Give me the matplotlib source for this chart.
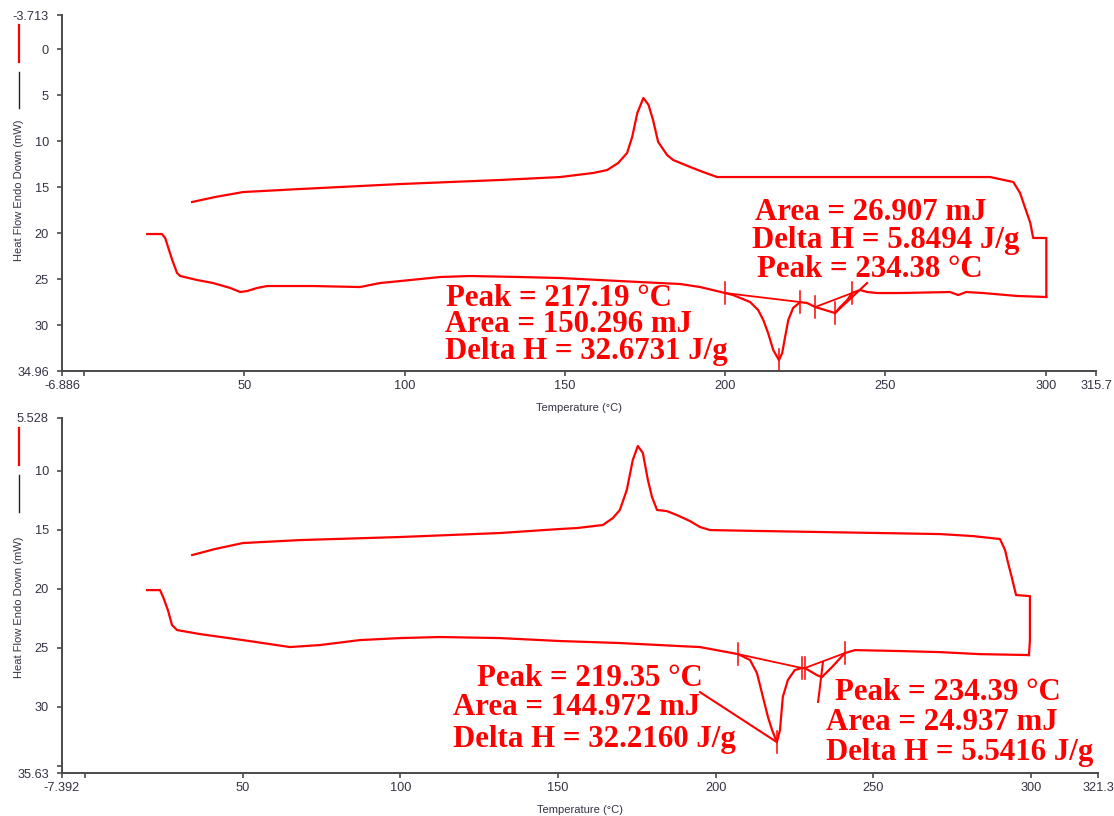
import matplotlib
matplotlib.use("Agg")
import matplotlib.pyplot as plt
from matplotlib.lines import Line2D

# ---------------- data: top run ----------------
top_cool_T = [33.7, 40.9, 49.6, 67.4, 98.6, 129.8, 148.5, 158.8, 163.2, 166.6, 169.4, 171.0,
              172.6, 174.5, 176.1, 177.5, 179.1, 181.9, 183.8, 189.1, 193.1, 197.5, 210.9,
              282.7, 289.9, 292.0, 295.2, 296.1, 300.2, 300.2]
top_cool_HF = [16.6, 16.06, 15.52, 15.19, 14.65, 14.21, 13.89, 13.45, 13.13, 12.37, 11.28, 9.54,
               6.93, 5.30, 6.06, 7.69, 10.08, 11.50, 12.04, 12.80, 13.34, 13.89, 13.89,
               13.89, 14.43, 15.62, 18.88, 20.51, 20.51, 26.92]
top_heat_T = [19.7, 24.3, 25.3, 26.2, 27.5, 29.0, 30.0, 35.3, 40.2, 45.6, 48.7, 50.9, 54.0, 57.1,
              71.5, 86.1, 89.2, 92.4, 98.6, 111.1, 120.4, 136.0, 148.5, 167.2, 186.0, 192.2,
              200.0, 202.5, 207.8, 210.3, 211.9, 213.4, 215.0, 216.8, 217.8, 218.7, 219.7,
              221.2, 223.4, 225.6, 228.1, 231.2, 234.3, 235.9, 238.1, 239.6, 242.1, 244.3,
              247.4, 254.6, 270.2, 272.7, 275.2, 280.5, 291.1, 300.2]
top_heat_HF = [20.08, 20.08, 20.51, 21.49, 22.9, 24.31, 24.64, 25.08, 25.40, 25.94, 26.38, 26.27,
               25.94, 25.73, 25.73, 25.84, 25.62, 25.40, 25.19, 24.75, 24.64, 24.75, 24.86,
               25.19, 25.51, 25.84, 26.49, 26.71, 27.47, 28.34, 29.42, 30.83, 32.68, 33.77,
               33.01, 31.27, 29.42, 28.12, 27.47, 27.58, 28.01, 28.34, 28.66, 28.01, 27.25,
               26.49, 26.16, 26.38, 26.49, 26.49, 26.38, 26.71, 26.38, 26.49, 26.81, 26.92]
# integration limits / markers (T, HF)
top_base1 = [(200.0, 26.49), (223.4, 27.47)]
top_base2 = [(228.1, 28.01), (239.6, 26.49)]
top_marks = [(200.0, 26.49), (223.4, 27.47), (228.1, 28.01), (234.3, 28.66), (239.6, 26.49)]
top_peak_mark = (216.8, 33.77)
top_leader = [(234.3, 28.66), (244.3, 25.4)]
top_labels_1 = ["Peak = 217.19 °C", "Area = 150.296 mJ", "Delta H = 32.6731 J/g"]
top_labels_2 = ["Area = 26.907 mJ", "Delta H = 5.8494 J/g", "Peak = 234.38 °C"]
top_xlim = (-6.886, 315.7)
top_ylim = (-3.713, 34.96)
top_yticks = [-3.713, 0, 5, 10, 15, 20, 25, 30, 34.96]
top_yticklabels = ["-3.713", "0", "5", "10", "15", "20", "25", "30", "34.96"]
top_xticks = [-6.886, 0, 50, 100, 150, 200, 250, 300, 315.7]
top_xticklabels = ["-6.886", "", "50", "100", "150", "200", "250", "300", "315.7"]

# ---------------- data: bottom run ----------------
bot_cool_T = [33.9, 41.1, 50.0, 68.1, 99.8, 131.6, 150.6, 156.0, 164.2, 167.4, 169.6, 171.8,
              173.7, 175.3, 176.9, 178.5, 179.8, 181.4, 184.5, 187.7, 191.8, 195.0, 198.2,
              214.0, 271.2, 281.6, 290.2, 291.8, 292.7, 294.0, 295.3, 299.7, 299.7, 299.4]
bot_cool_HF = [17.15, 16.64, 16.13, 15.88, 15.62, 15.28, 14.94, 14.86, 14.60, 14.01, 13.33, 11.63,
               9.09, 7.90, 8.50, 10.79, 12.23, 13.33, 13.42, 13.76, 14.26, 14.77, 15.03,
               15.11, 15.37, 15.54, 15.79, 16.72, 17.74, 19.10, 20.54, 20.63, 24.36, 25.63]
bot_heat_T = [19.6, 23.7, 24.7, 26.2, 27.5, 29.1, 36.4, 50.0, 64.9, 74.5, 87.1, 99.8, 112.5,
              131.6, 150.6, 169.6, 188.7, 195.0, 207.1, 210.9, 213.1, 215.0, 216.6, 217.9,
              219.4, 220.4, 221.3, 222.9, 225.1, 227.4, 228.3, 232.1, 233.7, 236.9, 241.0,
              244.2, 258.5, 271.2, 283.8, 299.4]
bot_heat_HF = [20.12, 20.12, 20.71, 21.81, 23.08, 23.51, 23.85, 24.36, 24.95, 24.78, 24.36, 24.19,
               24.10, 24.19, 24.44, 24.61, 24.87, 24.95, 25.55, 26.05, 27.16, 29.19, 30.89,
               31.99, 33.01, 31.99, 29.19, 27.75, 26.90, 26.73, 26.73, 27.33, 27.50, 26.65,
               25.46, 25.21, 25.29, 25.38, 25.55, 25.63]
bot_base1 = [(207.1, 25.55), (227.4, 26.73)]
bot_base2 = [(228.3, 26.73), (241.0, 25.46)]
bot_marks = [(207.1, 25.55), (227.4, 26.73), (228.3, 26.73), (241.0, 25.46)]
bot_peak_mark = (219.4, 33.01)
bot_leader1 = [(195.0, 28.77), (219.4, 33.01)]
bot_leader2 = [(234.0, 26.3), (232.5, 29.6)]
bot_labels_1 = ["Peak = 219.35 °C", "Area = 144.972 mJ", "Delta H = 32.2160 J/g"]
bot_labels_2 = ["Peak = 234.39 °C", "Area = 24.937 mJ", "Delta H = 5.5416 J/g"]
bot_xlim = (-7.392, 321.3)
bot_ylim = (5.528, 35.63)
bot_yticks = [5.528, 10, 15, 20, 25, 30, 35, 35.63]
bot_yticklabels = ["5.528", "10", "15", "20", "25", "30", "", "35.63"]
bot_xticks = [-7.392, 0, 50, 100, 150, 200, 250, 300, 321.3]
bot_xticklabels = ["-7.392", "", "50", "100", "150", "200", "250", "300", "321.3"]

ylabel_text = "Heat Flow Endo Down (mW)"
xlabel_text = "Temperature (°C)"

# ---------------- drawing ----------------
W, H = 1114, 816
fig = plt.figure(figsize=(W / 100, H / 100), dpi=100)
RED = "#ff0000"
AXC = "#4a4a4a"
TXT = "#333344"


def fx(px):
    return px / W


def fy(py):
    return 1 - py / H


def make_axes(rect, xlim, ylim, xt, xtl, yt, ytl):
    ax = fig.add_axes(rect)
    ax.set_xlim(*xlim)
    ax.set_ylim(ylim[1], ylim[0])
    for s in ("top", "right"):
        ax.spines[s].set_visible(False)
    for s in ("left", "bottom"):
        ax.spines[s].set_color(AXC)
        ax.spines[s].set_linewidth(1.4)
    ax.set_xticks(xt)
    ax.set_xticklabels(xtl)
    ax.set_yticks(yt)
    ax.set_yticklabels(ytl)
    ax.tick_params(axis="both", direction="out", length=3.5, width=1.2, color=AXC,
                   labelsize=9.2, labelcolor=TXT)
    ax.tick_params(axis="y", pad=6)
    ax.tick_params(axis="x", pad=3)
    for t in ax.get_xticklabels() + ax.get_yticklabels():
        t.set_family("Liberation Sans")
    ax.set_xlabel(xlabel_text, fontsize=8, color=TXT, family="Liberation Sans", labelpad=8)
    return ax


def draw_run(ax, heat_T, heat_HF, cool_T, cool_HF, bases, marks, half, peak_mark, leaders):
    lw = 1.6
    ax.plot(heat_T, heat_HF, color=RED, lw=lw, clip_on=False, solid_joinstyle="round")
    ax.plot(cool_T, cool_HF, color=RED, lw=lw, clip_on=False, solid_joinstyle="round")
    for b in bases:
        ax.plot([b[0][0], b[1][0]], [b[0][1], b[1][1]], color=RED, lw=1.3)
    for (t, v) in marks:
        ax.plot([t, t], [v - half, v + half], color=RED, lw=1.1)
    ax.plot([peak_mark[0], peak_mark[0]], [peak_mark[1] - half, peak_mark[1] + half],
            color=RED, lw=1.1, clip_on=False)
    for ld in leaders:
        ax.plot([ld[0][0], ld[1][0]], [ld[0][1], ld[1][1]], color=RED, lw=1.5)


ax1 = make_axes([fx(62), fy(371), (1096 - 62) / W, (371 - 15) / H],
                top_xlim, top_ylim, top_xticks, top_xticklabels, top_yticks, top_yticklabels)
draw_run(ax1, top_heat_T, top_heat_HF, top_cool_T, top_cool_HF,
         [top_base1, top_base2], top_marks, 1.2, top_peak_mark, [top_leader])

ax2 = make_axes([fx(62), fy(773), (1098 - 62) / W, (773 - 418) / H],
                bot_xlim, bot_ylim, bot_xticks, bot_xticklabels, bot_yticks, bot_yticklabels)
draw_run(ax2, bot_heat_T, bot_heat_HF, bot_cool_T, bot_cool_HF,
         [bot_base1, bot_base2], bot_marks, 0.95, bot_peak_mark, [bot_leader1, bot_leader2])

# legend-like marks and y labels
for (r0, r1, k0, k1, yc) in [(25, 62, 72, 108, 190), (428, 465, 475, 512, 607)]:
    fig.add_artist(Line2D([fx(19), fx(19)], [fy(r0), fy(r1)], color=RED, lw=1.6))
    fig.add_artist(Line2D([fx(19), fx(19)], [fy(k0), fy(k1)], color="#222222", lw=1.0))
    fig.text(fx(19), fy(yc), ylabel_text, rotation=90, ha="center", va="center",
             fontsize=8, color=TXT, family="Liberation Sans")

# annotation texts
afont = dict(family="Liberation Serif", weight="bold", color=RED, fontsize=22.2, va="baseline")
groups = [
    (top_labels_1, [(446, 306), (445, 332), (445, 359)]),
    (top_labels_2, [(755, 220), (752, 248), (757, 277)]),
    (bot_labels_1, [(477, 686), (453, 715), (453, 747)]),
    (bot_labels_2, [(835, 700), (826, 730), (826, 760)]),
]
for labels, pos in groups:
    for s, (px, py) in zip(labels, pos):
        fig.text(fx(px), fy(py), s, ha="left", **afont)

fig.savefig("out.png", dpi=100, facecolor="white")
